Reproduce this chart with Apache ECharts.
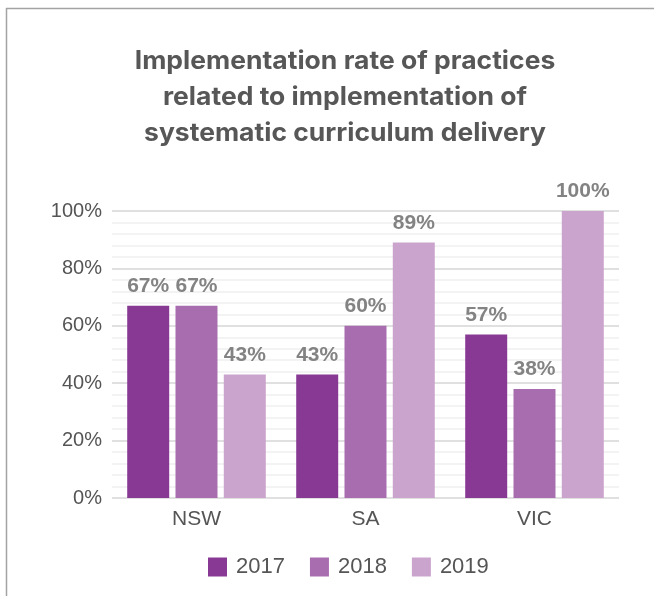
<!DOCTYPE html>
<html>
<head>
<meta charset="utf-8">
<script src="https://cdn.jsdelivr.net/npm/echarts@6/dist/echarts.min.js"></script>
<style>
html,body{margin:0;padding:0;background:#fff;}
#chart{width:654px;height:596px;}
</style>
</head>
<body>
<div id="chart"></div>
<script>
var categories = ['NSW', 'SA', 'VIC'];
var seriesNames = ['2017', '2018', '2019'];
var values2017 = [67, 43, 57];
var values2018 = [67, 60, 38];
var values2019 = [43, 89, 100];
var colors = ['#883994', '#a86daf', '#cba4ce'];
var titleText = 'Implementation rate of practices\nrelated to implementation of\nsystematic curriculum delivery';

var chart = echarts.init(document.getElementById('chart'), null, {renderer: 'canvas'});
var allValues = [values2017, values2018, values2019];
var series = seriesNames.map(function (name, i) {
  return {
    name: name,
    type: 'bar',
    data: allValues[i],
    barGap: '15%',
    barCategoryGap: '18%',
    itemStyle: {color: colors[i]},
    label: {
      show: true,
      position: 'top',
      distance: 9,
      formatter: '{c}%',
      color: '#838383',
      fontWeight: 'bold',
      fontSize: 21,
      fontFamily: 'Liberation Sans'
    }
  };
});
chart.setOption({
  animation: false,
  graphic: [
    {type: 'line', shape: {x1: 6, y1: 8.5, x2: 654, y2: 8.5}, style: {stroke: '#a3a3a3', lineWidth: 1.5}},
    {type: 'line', shape: {x1: 6.5, y1: 8, x2: 6.5, y2: 596}, style: {stroke: '#a3a3a3', lineWidth: 1.5}},
    {
      type: 'text',
      x: 345,
      y: 43,
      originX: 0,
      scaleX: 1.06,
      style: {
        text: titleText,
        fill: '#575757',
        font: 'bold 25px Inter',
        lineHeight: 36,
        align: 'center',
        verticalAlign: 'top'
      }
    }
  ],
  legend: {
    data: seriesNames,
    bottom: 13,
    left: 203,
    itemWidth: 19,
    itemHeight: 19,
    itemGap: 25,
    icon: 'rect',
    textStyle: {color: '#555', fontSize: 22, fontFamily: 'Liberation Sans', padding: [0, 0, 0, 4]}
  },
  grid: {left: 112, right: 35, top: 211, bottom: 98},
  xAxis: {
    type: 'category',
    data: categories,
    axisLine: {show: false},
    axisTick: {show: false},
    axisLabel: {color: '#555', fontSize: 21, margin: 11, fontFamily: 'Liberation Sans'}
  },
  yAxis: {
    type: 'value',
    min: 0,
    max: 100,
    interval: 20,
    axisLine: {show: false},
    axisTick: {show: false},
    axisLabel: {formatter: '{value}%', color: '#555', fontSize: 20, margin: 10, fontFamily: 'Liberation Sans'},
    splitLine: {lineStyle: {color: '#d6d6d6', width: 1.5}},
    minorTick: {show: false, splitNumber: 5},
    minorSplitLine: {show: true, lineStyle: {color: '#f0f0f0', width: 1.5}}
  },
  series: series
});
</script>
</body>
</html>
